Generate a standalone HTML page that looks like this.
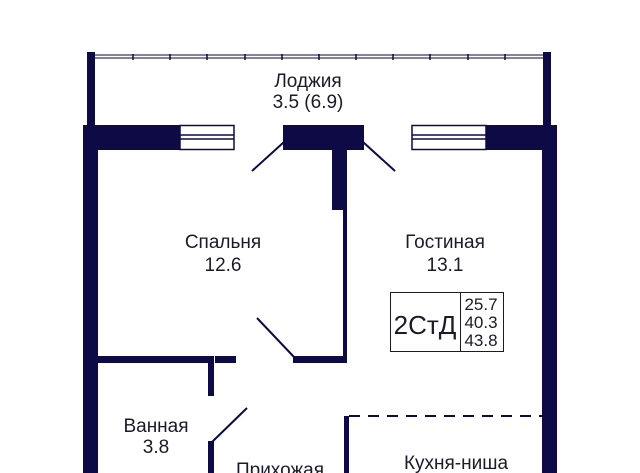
<!DOCTYPE html>
<html><head><meta charset="utf-8"><style>
html,body{margin:0;padding:0;background:#fff;width:640px;height:473px;overflow:hidden}
svg{display:block}
text{font-family:"Liberation Sans",sans-serif;fill:#1a1a2a;font-size:19px;text-anchor:middle}
</style></head><body>
<svg width="640" height="473" viewBox="0 0 640 473" xmlns="http://www.w3.org/2000/svg">
<g fill="#0d0a45">
<rect x="87" y="52" width="8" height="75"/>
<rect x="543" y="52" width="8" height="75"/>
<rect x="83" y="125" width="97" height="25"/>
<rect x="283" y="125" width="81" height="25"/>
<rect x="486" y="125" width="71" height="25"/>
<rect x="83" y="125" width="15" height="348"/>
<rect x="542" y="125" width="15" height="348"/>
<rect x="332" y="145" width="15" height="65"/>
<rect x="343" y="145" width="4" height="218"/>
<rect x="98" y="356" width="112" height="7"/>
<rect x="215" y="356" width="21" height="7"/>
<rect x="293" y="356" width="54" height="7"/>
<rect x="208" y="356" width="6" height="40"/>
<rect x="208" y="441" width="6" height="32"/>
<rect x="344" y="416" width="5" height="57"/>
</g>
<g stroke="#3a3860" fill="none">
<line x1="95" y1="55" x2="543" y2="55" stroke-width="1.2"/>
<line x1="95" y1="58" x2="543" y2="58" stroke-width="1.2"/>
</g>
<g stroke="#0d0a45" stroke-width="1.5">
<line x1="133" y1="54" x2="133" y2="60"/><line x1="170" y1="54" x2="170" y2="60"/><line x1="207" y1="54" x2="207" y2="60"/><line x1="245" y1="54" x2="245" y2="60"/><line x1="282" y1="54" x2="282" y2="60"/><line x1="319" y1="54" x2="319" y2="60"/><line x1="356" y1="54" x2="356" y2="60"/><line x1="393" y1="54" x2="393" y2="60"/><line x1="430" y1="54" x2="430" y2="60"/><line x1="468" y1="54" x2="468" y2="60"/><line x1="505" y1="54" x2="505" y2="60"/>
</g>
<g fill="none" stroke="#0d0a45" stroke-width="1.5">
<rect x="180" y="125.5" width="54" height="24"/>
<line x1="180" y1="135" x2="234" y2="135"/><line x1="180" y1="139" x2="234" y2="139"/>
<rect x="412" y="125.5" width="74" height="24"/>
<line x1="412" y1="135" x2="486" y2="135"/><line x1="412" y1="139" x2="486" y2="139"/>
</g>
<g stroke="#0d0a45" stroke-width="2">
<line x1="284" y1="142" x2="252" y2="171"/>
<line x1="363" y1="142" x2="395" y2="171"/>
<line x1="257" y1="318" x2="294" y2="357"/>
<line x1="247" y1="408" x2="212" y2="442"/>
</g>
<line x1="349" y1="416" x2="542" y2="416" stroke="#0d0a45" stroke-width="2" stroke-dasharray="11,8"/>
<g fill="none" stroke="#1a1a2a" stroke-width="1">
<rect x="390.5" y="292.5" width="113" height="59"/>
<line x1="460.5" y1="292" x2="460.5" y2="352"/>
</g>
<text x="425" y="334" style="font-size:26px">2СтД</text>
<text x="481" y="310" style="font-size:17px">25.7</text>
<text x="481" y="328" style="font-size:17px">40.3</text>
<text x="481" y="346" style="font-size:17px">43.8</text>
<text x="308" y="87">Лоджия</text>
<text x="308" y="108">3.5 (6.9)</text>
<text x="223" y="248">Спальня</text>
<text x="223" y="271">12.6</text>
<text x="445" y="248">Гостиная</text>
<text x="445" y="271">13.1</text>
<text x="156" y="432">Ванная</text>
<text x="156" y="453">3.8</text>
<text x="280" y="476">Прихожая</text>
<text x="456" y="469">Кухня-ниша</text>
</svg>
</body></html>
